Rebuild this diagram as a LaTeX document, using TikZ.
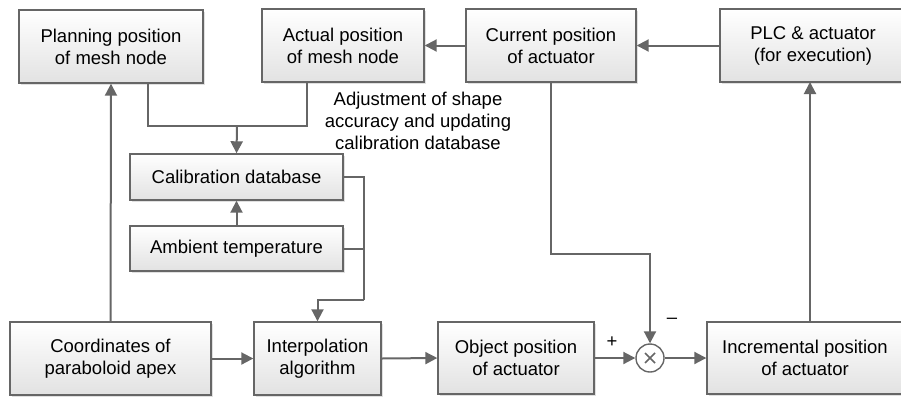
\documentclass[tikz,border=0pt]{standalone}
\usepackage{fontspec}
\setmainfont{Liberation Sans}
\usetikzlibrary{arrows.meta,shadows,calc}
\definecolor{linegray}{HTML}{666666}
\definecolor{boxtop}{HTML}{FFFFFF}
\definecolor{boxbot}{HTML}{E2E2E2}
\tikzset{
  blk/.style={draw=linegray, line width=1.4pt, top color=boxtop, bottom color=boxbot,
    drop shadow={shadow xshift=2pt, shadow yshift=-2pt, fill=black!12, opacity=1},
    align=center, inner sep=0pt, font=\fontsize{18.5}{22}\selectfont},
  flow/.style={draw=linegray, line width=2pt, -{Triangle[length=12pt,width=12pt]}},
  wire/.style={draw=linegray, line width=2pt},
  lbl/.style={font=\fontsize{18.5}{22}\selectfont, align=center, inner sep=0pt}
}
\begin{document}
\begin{tikzpicture}[x=1pt,y=-1pt]
\useasboundingbox (0,0) rectangle (901,397);

% top row
\node[blk, minimum width=184pt, minimum height=73pt] (plan) at (111,46.5) {Planning position\\of mesh node};
\node[blk, minimum width=162pt, minimum height=73pt] (act) at (343,45.5) {Actual position\\of mesh node};
\node[blk, minimum width=170pt, minimum height=73pt] (cur) at (551,45.5) {Current position\\of actuator};
\node[blk, minimum width=186pt, minimum height=73pt] (plc) at (813,45.5) {PLC \& actuator\\(for execution)};

% middle column
\node[blk, minimum width=213pt, minimum height=46pt] (cal) at (236.5,177) {Calibration database};
\node[blk, minimum width=213pt, minimum height=45pt] (amb) at (236.5,248.5) {Ambient temperature};

% bottom row
\node[blk, minimum width=201pt, minimum height=73pt] (coord) at (110.5,358.5) {Coordinates of\\paraboloid apex};
\node[blk, minimum width=127pt, minimum height=73pt] (interp) at (317.5,358.5) {Interpolation\\algorithm};
\node[blk, minimum width=156pt, minimum height=72pt] (obj) at (516,358) {Object position\\of actuator};
\node[blk, minimum width=196pt, minimum height=72pt] (inc) at (805,358) {Incremental position\\of actuator};

% summing junction
\node[draw=linegray, line width=1.4pt, fill=white, circle, minimum size=28pt, inner sep=0pt] (sum) at (650,358) {};
\draw[linegray, line width=1.6pt] ($(sum.center)+(-5,-5)$) -- ($(sum.center)+(5,5)$)
  ($(sum.center)+(-5,5)$) -- ($(sum.center)+(5,-5)$);

% annotation
\node[lbl] (note) at (418,120.5) {Adjustment of shape\\accuracy and updating\\calibration database};
\node[lbl] (plus) at (612,342) {+};
\node[lbl] (minus) at (672,321) {\textendash};

% feedback along the top
\path[flow] (plc.west) -- (cur.east);
\path[flow] (cur.west) -- (act.east);

% mesh node positions merge into the calibration database
\coordinate (jn) at (237,126);
\coordinate (planout) at (148,83);
\coordinate (actout) at (307,82);
\path[wire] (planout) |- (jn);
\path[wire] (actout) |- (jn);
\path[flow] (jn) -- (cal.north);
\path[flow] (amb.north) -- (cal.south);

% database and temperature feed the interpolation
\coordinate (rb) at (364,300);
\path[wire] (cal.east) -| (rb);
\path[wire] (amb.east) -- (amb.east -| rb);
\path[flow] (rb) -| (interp.north);

% main forward path
\path[flow] (coord.north) -- (plan.south);
\path[flow] (coord.east) -- (interp.west);
\path[flow] (interp.east) -- (obj.west);
\path[flow] (obj.east) -- (sum.west);
\path[flow] (sum.east) -- (inc.west);
\coordinate (fb) at (650,254);
\path[flow] (cur.south) |- (fb) -- (sum.north);
\coordinate (incout) at (810,322);
\coordinate (plcin) at (810,82);
\path[flow] (incout) -- (plcin);
\end{tikzpicture}
\end{document}
